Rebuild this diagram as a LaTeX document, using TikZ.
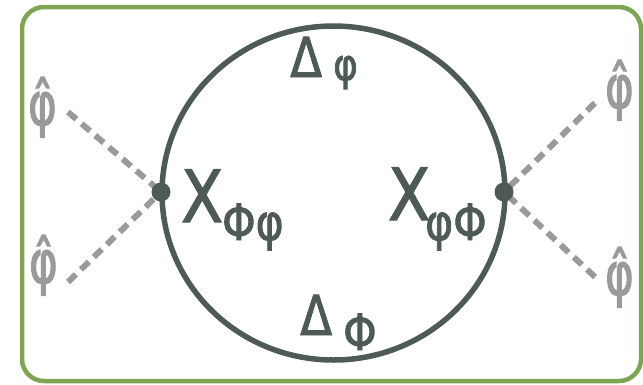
\documentclass[tikz,border=0pt]{standalone}
\usepackage{fontspec}
\setmainfont{DejaVu Sans}
\newfontfamily\hand{DejaVu Sans}[FakeStretch=0.85,FakeBold=1.6]
\newfontfamily\handnarrow{DejaVu Sans}[FakeStretch=0.72,FakeBold=1.8]
\definecolor{inkdark}{HTML}{4D5A58}
\definecolor{framegreen}{HTML}{7EA553}
\definecolor{hatgrey}{HTML}{9A9A9A}
\begin{document}
\begin{tikzpicture}[x=1pt,y=-1pt,
  frame/.style={draw=framegreen,line width=4.5pt,rounded corners=22pt},
  loop/.style={draw=inkdark,line width=5.5pt},
  vertex/.style={circle,fill=inkdark,inner sep=0pt,minimum size=19pt},
  ext/.style={draw=hatgrey,line width=6pt,dash pattern=on 11pt off 7pt},
  lbl/.style={text=inkdark,inner sep=0pt,anchor=base west},
  hatlbl/.style={text=hatgrey,inner sep=0pt,anchor=base west,font=\handnarrow\fontsize{60}{60}\selectfont}
]
\useasboundingbox (0,0) rectangle (643,384);
\draw[frame] (22,7) rectangle (641,381);
\draw[loop] (333.5,193) ellipse [x radius=171.5, y radius=167];
\coordinate (cl) at (161,192);
\coordinate (cr) at (504,192);
\coordinate (lt) at (68,112);
\coordinate (lb) at (68,282);
\coordinate (rt) at (595,103);
\coordinate (rb) at (595,277);
\draw[ext] (lt) -- (cl);
\draw[ext] (lb) -- (cl);
\draw[ext] (rt) -- (cr);
\draw[ext] (rb) -- (cr);
\node[vertex] (vl) at (cl) {};
\node[vertex] (vr) at (cr) {};
\node[hatlbl] (plt) at (28,125) {φ̂};
\node[hatlbl] (plb) at (29,283) {φ̂};
\node[hatlbl] (prt) at (605,108) {φ̂};
\node[hatlbl] (prb) at (605,295) {φ̂};
% labels
\node[lbl,font=\hand\fontsize{55}{55}\selectfont] (dtop) at (290,77) {Δ};
\node[lbl,font=\hand\fontsize{44}{44}\selectfont] (dtopsub) at (333,80) {φ};
\node[lbl,font=\hand\fontsize{72}{72}\selectfont] (xl) at (181,222) {X};
\node[lbl,font=\hand\fontsize{50}{50}\selectfont] (xlsub) at (222,240) {Φφ};
\node[lbl,font=\hand\fontsize{72}{72}\selectfont] (xr) at (388,220) {X};
\node[lbl,font=\hand\fontsize{50}{50}\selectfont] (xrsub) at (425,240) {φΦ};
\node[lbl,font=\hand\fontsize{55}{55}\selectfont] (dbot) at (300,335) {Δ};
\node[lbl,font=\hand\fontsize{50}{50}\selectfont] (dbotsub) at (343,350) {Φ};
\end{tikzpicture}
\end{document}
